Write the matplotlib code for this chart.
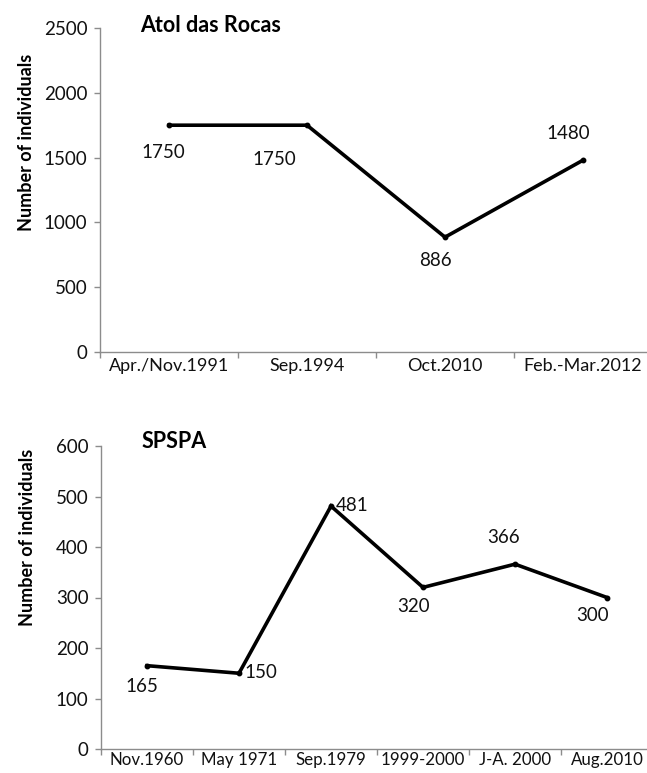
import matplotlib

matplotlib.use("Agg")
import matplotlib.pyplot as plt
import numpy as np

# data
rocas_periods = ["Apr./Nov.1991", "Sep.1994", "Oct.2010", "Feb.-Mar.2012"]
rocas_counts = [1750, 1750, 886, 1480]
# label offsets in pixels (dx, dy down-positive), hand placed like in the original
rocas_label_offsets = [(-6, 27), (-33, 34), (-10, 23), (-15, -27)]

spspa_periods = ["Nov.1960", "May 1971", "Sep.1979", "1999-2000", "J-A. 2000", "Aug.2010"]
spspa_counts = [165, 150, 481, 320, 366, 300]
spspa_label_offsets = [(-5, 21), (22, -1), (21, -1), (-9, 19), (-11, -27), (-14, 18)]

AXIS_GRAY = "#8C8C8C"
FONT = ["Lato", "DejaVu Sans"]
TXT = 13.5

plt.rcParams.update(
    {
        "font.family": FONT,
        "font.size": TXT,
        "axes.linewidth": 1.0,
        "axes.edgecolor": AXIS_GRAY,
        "axes.spines.top": False,
        "axes.spines.right": False,
    }
)

W, H = 647, 773
fig = plt.figure(figsize=(W / 100, H / 100), dpi=100)


def px_box(x0, x1, y_top, y_bottom):
    return [x0 / W, 1 - y_bottom / H, (x1 - x0) / W, (y_bottom - y_top) / H]


def draw_panel(ax, periods, counts, offsets, ymax, ystep, title, title_xy, ylabel_xy, label_pad, xlab_size):
    n = len(periods)
    xs = np.arange(n) + 0.5
    ax.plot(xs, counts, color="black", lw=2.6, marker="o", ms=3.2, solid_joinstyle="miter", clip_on=False)
    for x, v, (dx, dy) in zip(xs, counts, offsets):
        ax.annotate(
            str(v),
            (x, v),
            xytext=(dx * 0.72, -dy * 0.72),
            textcoords="offset points",
            ha="center",
            va="center",
            fontsize=TXT,
            color="#111111",
        )
    ax.set_xlim(0, n)
    ax.set_ylim(0, ymax)
    ax.set_yticks(np.arange(0, ymax + 1, ystep))
    ax.set_xticks(np.arange(n + 1))
    ax.set_xticklabels([])
    ax.set_xticks(xs, minor=True)
    ax.set_xticklabels(periods, minor=True)
    ax.tick_params(axis="x", which="major", length=4, color=AXIS_GRAY, width=1.0)
    ax.tick_params(axis="x", which="minor", length=0, pad=label_pad, labelsize=xlab_size, labelcolor="#111111")
    ax.tick_params(axis="y", length=4, color=AXIS_GRAY, width=1.0, pad=5, labelsize=TXT, labelcolor="#111111")
    ax.set_ylabel("Number of individuals", fontweight="bold", fontsize=13)
    ax.yaxis.set_label_coords(*ylabel_xy)
    ax.text(
        title_xy[0],
        title_xy[1],
        title,
        transform=fig.transFigure,
        fontweight="bold",
        fontsize=15.5,
        ha="left",
        va="center",
    )


ax_top = fig.add_axes(px_box(100, 652, 28, 352))
draw_panel(
    ax_top, rocas_periods, rocas_counts, rocas_label_offsets, 2500, 500,
    "Atol das Rocas", (140 / W, 1 - 25 / H), (-0.117, 0.648), 4, 13,
)

ax_bot = fig.add_axes(px_box(101, 653, 446, 749))
draw_panel(
    ax_bot, spspa_periods, spspa_counts, spspa_label_offsets, 600, 100,
    "SPSPA", (142 / W, 1 - 441 / H), (-0.118, 0.70), 2, 12.2,
)

fig.savefig("out.png", dpi=100)
